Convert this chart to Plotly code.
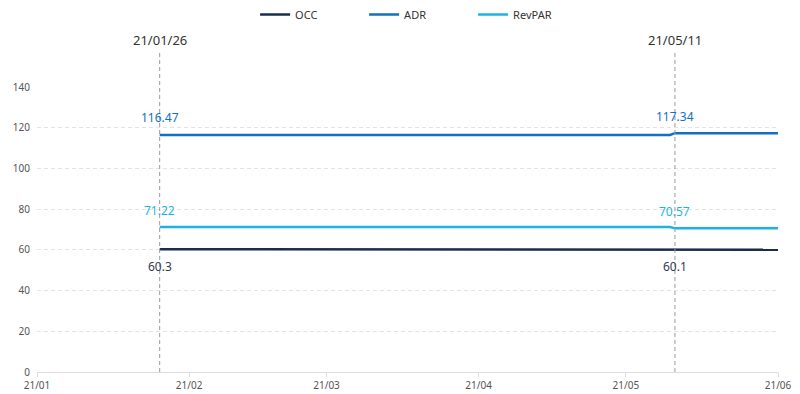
import plotly.graph_objects as go

dates = ["2021-01-26", "2021-05-10", "2021-05-11", "2021-06-01"]
occ = [60.3, 60.3, 60.1, 60.1]
adr = [116.47, 116.47, 117.34, 117.34]
revpar = [71.22, 71.22, 70.57, 70.57]

mark_dates = ["2021-01-26", "2021-05-11"]
mark_labels = ["21/01/26", "21/05/11"]
occ_marks = [60.3, 60.1]
adr_marks = [116.47, 117.34]
revpar_marks = [71.22, 70.57]

c_occ = "#1d2b4c"
c_adr = "#1270c2"
c_rev = "#1cb2e6"

fig = go.Figure()
fig.add_trace(go.Scatter(x=dates, y=occ, name="OCC", mode="lines", line=dict(color=c_occ, width=2.5)))
fig.add_trace(go.Scatter(x=dates, y=adr, name="ADR", mode="lines", line=dict(color=c_adr, width=2.5)))
fig.add_trace(go.Scatter(x=dates, y=revpar, name="RevPAR", mode="lines", line=dict(color=c_rev, width=2.5)))

for d, lab, o, a, r in zip(mark_dates, mark_labels, occ_marks, adr_marks, revpar_marks):
    fig.add_shape(type="line", x0=d, x1=d, xref="x", yref="paper", y0=0, y1=1.125,
                  line=dict(color="#9a9a9a", width=1, dash="4px,3px"))
    fig.add_annotation(x=d, y=1.125, xref="x", yref="paper", text=lab, showarrow=False,
                       yanchor="bottom", font=dict(size=13, color="#333333"))
    fig.add_annotation(x=d, y=a, text=f"{a:.2f}", showarrow=False, yshift=17,
                       font=dict(size=12, color=c_adr))
    fig.add_annotation(x=d, y=r, text=f"{r:.2f}", showarrow=False, yshift=17,
                       font=dict(size=12, color=c_rev))
    fig.add_annotation(x=d, y=o, text=f"{o:g}", showarrow=False, yshift=-17,
                       font=dict(size=12, color="#333a4d"))

fig.update_layout(
    width=800, height=394,
    margin=dict(l=37, r=22, t=87, b=22),
    paper_bgcolor="white", plot_bgcolor="white",
    font=dict(family="Noto Sans", size=10, color="#555555"),
    showlegend=True,
    legend=dict(orientation="h", x=0.515, xanchor="center", y=1.0, yref="container", yanchor="top",
                entrywidth=64, entrywidthmode="pixels", itemwidth=30,
                font=dict(size=11, color="#333333")),
    xaxis=dict(type="date", range=["2021-01-01", "2021-06-01"], tickformat="%y/%m",
               dtick="M1", tick0="2021-01-01", showgrid=False, showline=True, linecolor="#dddddd",
               ticks="outside", tickcolor="#dddddd", ticklen=4, tickfont=dict(size=10, color="#555555"),
               zeroline=False, automargin=False),
    yaxis=dict(range=[0, 140], dtick=20, showgrid=True, gridcolor="#e3e3e3", griddash="4px,3px",
               zeroline=False, showline=False, tickfont=dict(size=10, color="#555555"),
               ticklabelstandoff=6, automargin=False),
)

fig.write_html("out.html")
